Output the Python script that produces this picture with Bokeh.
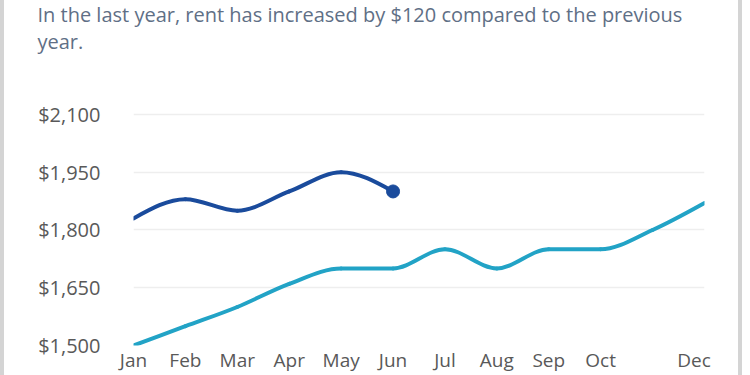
from bokeh.plotting import figure
from bokeh.models import Range1d, FixedTicker, NumeralTickFormatter, ColumnDataSource, Title
from bokeh.embed import file_html
from bokeh.resources import INLINE

# ---- data ----
months = ["Jan", "Feb", "Mar", "Apr", "May", "Jun", "Jul", "Aug", "Sep", "Oct", "Nov", "Dec"]
previous_year = [1500, 1550, 1600, 1660, 1700, 1700, 1750, 1700, 1750, 1750, 1800, 1870]
current_year = [1830, 1880, 1850, 1900, 1950, 1900]
y_ticks = [1500, 1650, 1800, 1950, 2100]
x_labels = ["Jan", "Feb", "Mar", "Apr", "May", "Jun", "Jul", "Aug", "Sep", "Oct", "Dec"]
x_label_pos = [0, 1, 2, 3, 4, 5, 6, 7, 8, 9, 10.8]
header = "In the last year, rent has increased by $120 compared to the previous\nyear."

DARK = "#1a4b9c"
LIGHT = "#22a3c6"
FONT = "Open Sans"
TXT = "#5f6f86"

CARD = 4                      # card border width (css)
W, H = 750 - 2 * CARD, 375
BL, BR, BT, BB = 129, 42, 111, 30  # borders around the plot frame (px)
Y_PAD = 5                     # small headroom so the top grid line is not clipped


def monotone_bezier(ys):
    """Cubic Bezier segments (monotone-x tangents) through the data points."""
    xs = list(range(len(ys)))
    n = len(ys)
    s = [(ys[i + 1] - ys[i]) / (xs[i + 1] - xs[i]) for i in range(n - 1)]
    t = [0.0] * n
    for i in range(1, n - 1):
        h0 = xs[i] - xs[i - 1]
        h1 = xs[i + 1] - xs[i]
        s0, s1 = s[i - 1], s[i]
        p = (s0 * h1 + s1 * h0) / (h0 + h1)
        sg = (1 if s0 > 0 else -1 if s0 < 0 else 0) + (1 if s1 > 0 else -1 if s1 < 0 else 0)
        t[i] = sg * min(abs(s0), abs(s1), 0.5 * abs(p)) if sg else 0.0
    if n > 2:
        t[0] = (3 * s[0] - t[1]) / 2
        t[-1] = (3 * s[-1] - t[-2]) / 2
    else:
        t[0] = t[-1] = s[0]
    d = dict(x0=[], y0=[], x1=[], y1=[], cx0=[], cy0=[], cx1=[], cy1=[])
    for i in range(n - 1):
        h = xs[i + 1] - xs[i]
        d["x0"].append(xs[i]); d["y0"].append(ys[i])
        d["x1"].append(xs[i + 1]); d["y1"].append(ys[i + 1])
        d["cx0"].append(xs[i] + h / 3); d["cy0"].append(ys[i] + h / 3 * t[i])
        d["cx1"].append(xs[i + 1] - h / 3); d["cy1"].append(ys[i + 1] - h / 3 * t[i + 1])
    return ColumnDataSource(d)


p = figure(width=W, height=H, output_backend="svg", toolbar_location=None,
           x_range=Range1d(0, len(months) - 1), y_range=Range1d(y_ticks[0], y_ticks[-1] + Y_PAD),
           min_border_left=BL, min_border_right=BR, min_border_top=BT, min_border_bottom=BB)
p.styles = {"border-left": f"{CARD}px solid #d4d4d4", "border-right": f"{CARD}px solid #d4d4d4"}
p.outline_line_color = None
p.background_fill_color = "white"
p.border_fill_color = "white"

# spacer between the header and the plot frame (nearest to the frame)
p.add_layout(Title(text=" ", text_font_size="1px", standoff=53), "above")
# header text (two lines) at the top of the card
p.add_layout(Title(text=header, align="left", offset=33 - BL, vertical_align="top",
                   text_font=FONT, text_font_size="20px", text_font_style="normal",
                   text_color=TXT, text_line_height=1.0, standoff=0), "above")

p.xgrid.visible = False
p.ygrid.grid_line_color = "#eeeeee"
p.ygrid.grid_line_width = 1.5

p.yaxis.ticker = FixedTicker(ticks=y_ticks)
p.yaxis.formatter = NumeralTickFormatter(format="$0,0")
p.xaxis.ticker = FixedTicker(ticks=x_label_pos)
p.xaxis.major_label_overrides = {pos: lab for pos, lab in zip(x_label_pos, x_labels)}
for ax in (p.xaxis, p.yaxis):
    ax.axis_line_color = None
    ax.major_tick_line_color = None
    ax.minor_tick_line_color = None
    ax.major_tick_out = 0
    ax.major_tick_in = 0
    ax.minor_tick_out = 0
    ax.major_label_text_font = FONT
    ax.major_label_text_font_size = "20px"
    ax.major_label_text_color = "#595959"
p.xaxis.major_label_text_font_size = "19px"
p.yaxis.major_label_standoff = 33
p.xaxis.major_label_standoff = 1

prev_src = monotone_bezier(previous_year)
cur_src = monotone_bezier(current_year)
p.bezier(x0="x0", y0="y0", x1="x1", y1="y1", cx0="cx0", cy0="cy0", cx1="cx1", cy1="cy1",
         source=prev_src, line_color=LIGHT, line_width=4, line_cap="round")
p.bezier(x0="x0", y0="y0", x1="x1", y1="y1", cx0="cx0", cy0="cy0", cx1="cx1", cy1="cy1",
         source=cur_src, line_color=DARK, line_width=4, line_cap="round")
p.scatter(x=[len(current_year) - 1], y=[current_year[-1]], size=13, fill_color=DARK, line_color=DARK)

open("out.html", "w").write(file_html(p, INLINE))
